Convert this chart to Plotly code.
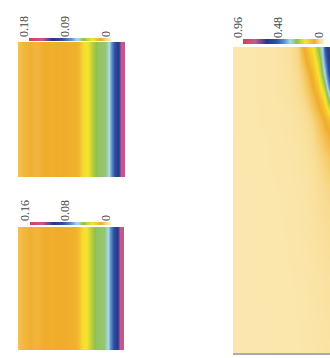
import plotly.graph_objects as go
import numpy as np

W, H = 330, 358

# colour map (normalised position -> colour)
cscale = [
    [0.00, "#fdf1cc"], [0.03, "#fbe7ae"], [0.06, "#f9dc92"], [0.09, "#f5c75e"],
    [0.13, "#f0ac2c"], [0.18, "#f4c82e"], [0.23, "#f8e42c"], [0.29, "#c2d43c"],
    [0.34, "#90c04c"], [0.42, "#a8d8ec"], [0.50, "#5e8ccc"], [0.60, "#2c50a0"],
    [0.72, "#27358a"], [0.85, "#c25a92"], [1.00, "#d8404e"],
]

# ---- left panels: value profile across the width (constant along height)
left_x = [0, 5, 12, 18, 26, 34, 42, 50, 56, 60, 64, 69, 73, 78, 86, 90, 93, 96, 99, 102, 106]
top_vals = [0.018, 0.0205, 0.0225, 0.021, 0.0234, 0.0243, 0.023, 0.0243, 0.0245, 0.028, 0.038,
            0.0432, 0.054, 0.063, 0.0648, 0.0756, 0.0936, 0.1116, 0.126, 0.153, 0.162]
bot_vals = [0.016, 0.0182, 0.020, 0.0187, 0.0208, 0.0216, 0.0205, 0.0216, 0.0218, 0.025, 0.034,
            0.0384, 0.048, 0.056, 0.0576, 0.0672, 0.0832, 0.0992, 0.112, 0.136, 0.144]
top_max, bot_max = 0.18, 0.16
top_ticks = [0.18, 0.09, 0]
top_labels = ["0.18", "0.09", "0"]
bot_ticks = [0.16, 0.08, 0]
bot_labels = ["0.16", "0.08", "0"]

# ---- right panel: 2-D field on a coarse grid (x across, y down)
right_x = [0, 20, 40, 55, 65, 70, 75, 80, 85, 89, 92, 95, 97]
right_y = [0, 13, 26, 40, 53, 63, 73, 90, 110, 140, 180, 230, 306]
right_z = [
    [0.030, 0.032, 0.035, 0.045, 0.070, 0.120, 0.170, 0.220, 0.330, 0.400, 0.580, 0.690, 0.770],
    [0.030, 0.032, 0.035, 0.044, 0.065, 0.100, 0.140, 0.185, 0.270, 0.370, 0.500, 0.630, 0.710],
    [0.030, 0.032, 0.035, 0.042, 0.060, 0.080, 0.110, 0.150, 0.220, 0.330, 0.420, 0.560, 0.640],
    [0.030, 0.032, 0.035, 0.041, 0.055, 0.070, 0.090, 0.125, 0.170, 0.240, 0.320, 0.440, 0.520],
    [0.030, 0.032, 0.034, 0.040, 0.050, 0.060, 0.075, 0.100, 0.130, 0.170, 0.220, 0.320, 0.380],
    [0.030, 0.032, 0.034, 0.038, 0.046, 0.053, 0.065, 0.085, 0.110, 0.140, 0.170, 0.220, 0.260],
    [0.030, 0.032, 0.034, 0.037, 0.043, 0.048, 0.057, 0.070, 0.090, 0.110, 0.130, 0.150, 0.170],
    [0.030, 0.031, 0.033, 0.036, 0.040, 0.044, 0.050, 0.060, 0.075, 0.088, 0.100, 0.110, 0.120],
    [0.030, 0.031, 0.033, 0.035, 0.038, 0.041, 0.045, 0.052, 0.062, 0.070, 0.076, 0.082, 0.086],
    [0.030, 0.030, 0.032, 0.034, 0.036, 0.038, 0.041, 0.046, 0.052, 0.057, 0.060, 0.063, 0.065],
    [0.030, 0.030, 0.031, 0.033, 0.035, 0.037, 0.039, 0.042, 0.046, 0.050, 0.052, 0.054, 0.055],
    [0.030, 0.030, 0.031, 0.032, 0.033, 0.035, 0.036, 0.038, 0.040, 0.042, 0.044, 0.045, 0.046],
    [0.029, 0.030, 0.030, 0.031, 0.032, 0.033, 0.034, 0.035, 0.036, 0.037, 0.038, 0.039, 0.040],
]
right_max = 0.96
right_ticks = [0.96, 0.48, 0]
right_labels = ["0.96", "0.48", "0"]


def xd(a, b):
    return [a / W, b / W]


def yd(top, bottom):
    return [1 - bottom / H, 1 - top / H]


fig = go.Figure()

# panels
fig.add_trace(go.Heatmap(x=left_x, y=[0, 1], z=[top_vals, top_vals], zmin=0, zmax=top_max,
                         colorscale=cscale, zsmooth="best", showscale=False,
                         xaxis="x", yaxis="y"))
fig.add_trace(go.Heatmap(x=left_x, y=[0, 1], z=[bot_vals, bot_vals], zmin=0, zmax=bot_max,
                         colorscale=cscale, zsmooth="best", showscale=False,
                         xaxis="x2", yaxis="y2"))
fig.add_trace(go.Heatmap(x=right_x, y=right_y, z=right_z, zmin=0, zmax=right_max,
                         colorscale=cscale, zsmooth="best", showscale=False,
                         xaxis="x3", yaxis="y3"))

# colour bars as thin strips
for i, m in zip([4, 5, 6], [top_max, bot_max, right_max]):
    g = np.linspace(0, m, 80)
    fig.add_trace(go.Heatmap(x=g, y=[0, 1], z=[g, g], zmin=0, zmax=m, colorscale=cscale,
                             zsmooth="best", showscale=False,
                             xaxis=f"x{i}", yaxis=f"y{i}"))

hidden = dict(showgrid=False, zeroline=False, showticklabels=False, ticks="",
              showline=False, automargin=False)
tickfont = dict(family="Liberation Serif", size=12, color="#444444")
cbx = dict(side="top", tickangle=-90, tickfont=tickfont, showgrid=False, zeroline=False,
           ticks="", showline=False, automargin=False, ticklabelshift=5)

fig.update_layout(
    template="none",
    width=W, height=H, margin=dict(l=0, r=0, t=0, b=0, autoexpand=False),
    paper_bgcolor="white", plot_bgcolor="white", showlegend=False,
    xaxis=dict(domain=xd(18, 125), range=[0, 106], **hidden),
    yaxis=dict(domain=yd(42, 177), range=[0, 1], **hidden),
    xaxis2=dict(domain=xd(18, 124), range=[0, 106], anchor="y2", **hidden),
    yaxis2=dict(domain=yd(227, 350), range=[0, 1], anchor="x2", **hidden),
    xaxis3=dict(domain=xd(233, 330), range=[0, 97], anchor="y3", showgrid=False,
                zeroline=False, showticklabels=False, ticks="", showline=True,
                linecolor="#aaaaaa", linewidth=2, automargin=False),
    yaxis3=dict(domain=yd(47, 353), range=[306, 0], anchor="x3", **hidden),
    xaxis4=dict(domain=xd(29, 111), range=[top_max * 1.002, -0.0004], anchor="y4",
                tickvals=top_ticks, ticktext=top_labels, **cbx),
    yaxis4=dict(domain=yd(38, 41), range=[0, 1], anchor="x4", **hidden),
    xaxis5=dict(domain=xd(30, 111), range=[bot_max * 1.002, -0.0004], anchor="y5",
                tickvals=bot_ticks, ticktext=bot_labels, **cbx),
    yaxis5=dict(domain=yd(222, 225), range=[0, 1], anchor="x5", **hidden),
    xaxis6=dict(domain=xd(243, 324), range=[right_max * 1.002, -0.002], anchor="y6",
                tickvals=right_ticks, ticktext=right_labels, **cbx),
    yaxis6=dict(domain=yd(39, 44), range=[0, 1], anchor="x6", **hidden),
)

fig.write_html(
    "out.html",
    config={"displayModeBar": False},
    post_script="document.body.style.margin='0px';document.body.style.overflow='hidden';",
)
